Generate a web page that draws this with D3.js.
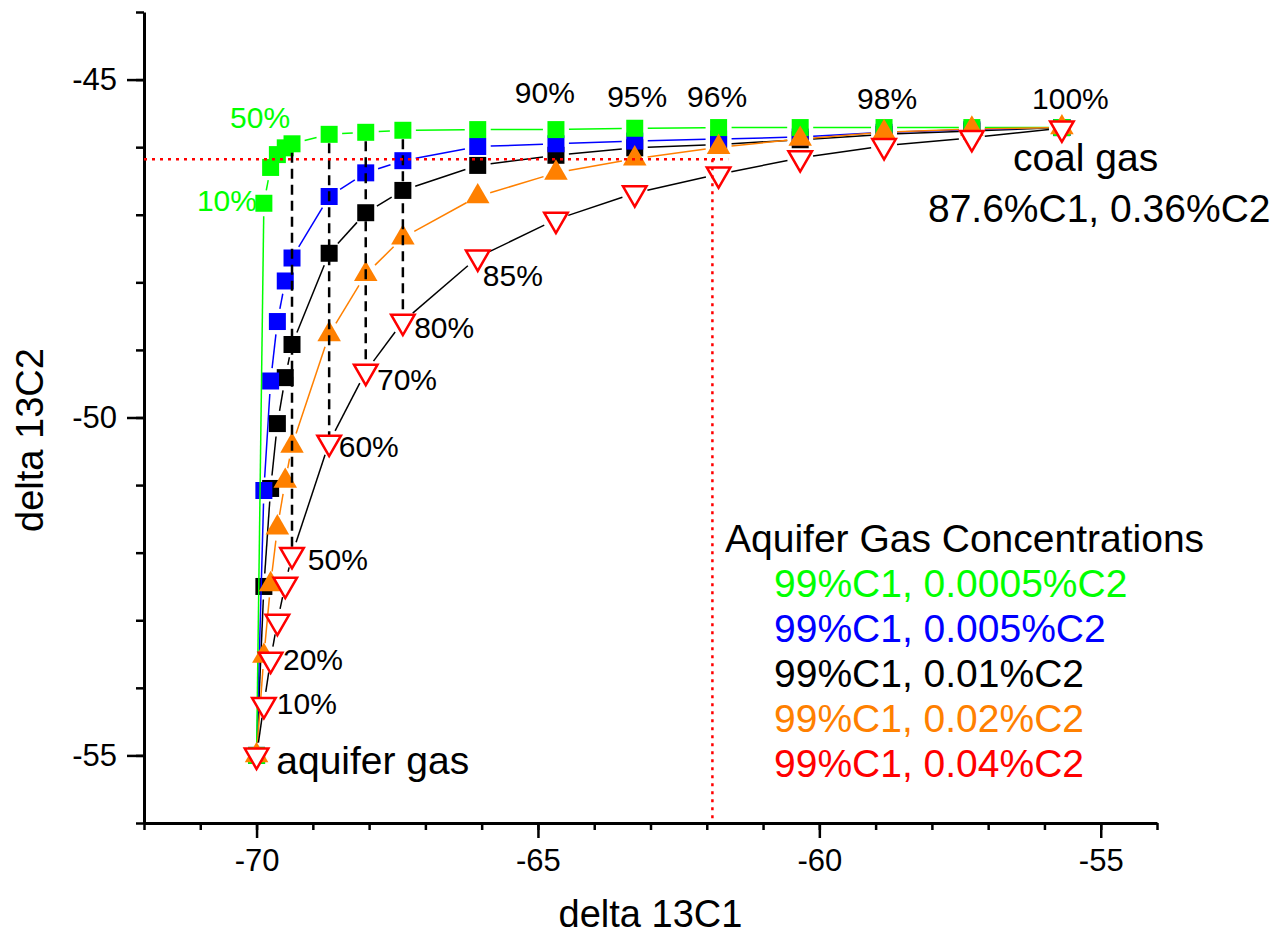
<!DOCTYPE html>
<html>
<head>
<meta charset="utf-8">
<script src="https://cdn.jsdelivr.net/npm/d3@7"></script>
<style>
  html, body { margin: 0; padding: 0; background: #fff; }
  svg text { font-family: "Liberation Sans", Arial, sans-serif; }
</style>
</head>
<body>
<div id="chart"></div>
<script>
// mixing fraction of coal gas (%) and resulting delta 13C1 (shared by all series)
const mixPct = [0, 10, 20, 30, 40, 50, 60, 70, 80, 85, 90, 95, 96, 97, 98, 99, 100];
const delta13C1 = [-70.0, -69.87, -69.75, -69.63, -69.49, -69.37, -68.71, -68.06, -67.40,
  -66.07, -64.68, -63.28, -61.79, -60.34, -58.85, -57.29, -55.69];

// delta 13C2 for each aquifer gas concentration
const c2_0005 = [-55.0, -46.83, -46.30, -46.11, -46.01, -45.95, -45.81, -45.78, -45.75,
  -45.74, -45.74, -45.72, -45.71, -45.71, -45.71, -45.71, -45.71];
const c2_005 = [-55.0, -51.08, -49.46, -48.58, -47.98, -47.64, -46.73, -46.38, -46.20,
  -45.99, -45.95, -45.91, -45.88, -45.85, -45.78, -45.74, -45.71];
const c2_01 = [-55.0, -52.50, -51.05, -50.09, -49.41, -48.92, -47.57, -46.97, -46.64,
  -46.27, -46.12, -46.01, -45.96, -45.89, -45.81, -45.76, -45.71];
const c2_02 = [-55.0, -53.53, -52.47, -51.63, -50.94, -50.42, -48.77, -47.88, -47.34,
  -46.73, -46.38, -46.17, -46.00, -45.88, -45.78, -45.73, -45.71];
const c2_04 = [-55.0, -54.25, -53.58, -53.02, -52.47, -52.03, -50.37, -49.32, -48.58,
  -47.63, -47.07, -46.68, -46.40, -46.16, -45.98, -45.86, -45.72];

const legendTitle = "Aquifer Gas Concentrations";
const legendLabels = ["99%C1, 0.0005%C2", "99%C1, 0.005%C2", "99%C1, 0.01%C2", "99%C1, 0.02%C2", "99%C1, 0.04%C2"];

// tick values
const xMajor = [-70, -65, -60, -55];
const yMajor = [-55, -50, -45];

// dashed guides drawn at these mixing steps
const guidePct = [50, 60, 70, 80];

// red dotted reference: coal-gas C2 level and C1 crossover
const refC2 = -46.18;
const refC1 = -61.9;
const refC1End = -61.62;

// annotations [text, delta13C1, delta13C2]
const pctNotes = [
  ["90%", -65.41, -45.34], ["95%", -63.77, -45.40], ["96%", -62.35, -45.41],
  ["98%", -59.33, -45.44], ["100%", -56.22, -45.44], ["85%", -65.98, -48.06],
  ["80%", -67.20, -48.83], ["70%", -67.86, -49.59], ["60%", -68.54, -50.58],
  ["50%", -69.09, -52.25], ["20%", -69.53, -53.73], ["10%", -69.64, -54.39]
];
const greenNotes = [["50%", -70.47, -45.71], ["10%", -71.06, -46.95]];
const bigNotes = [
  ["aquifer gas", -69.65, -55.28], ["coal gas", -56.56, -46.36],
  ["87.6%C1, 0.36%C2", -58.07, -47.10]
];

const W = 1279, H = 938;
const margin = { top: 12, right: 122, bottom: 115, left: 144 };
const width = W - margin.left - margin.right;
const height = H - margin.top - margin.bottom;

const svg = d3.select("#chart").append("svg")
  .attr("width", W)
  .attr("height", H);

const g = svg.append("g")
  .attr("transform", `translate(${margin.left},${margin.top})`);

const x = d3.scaleLinear().domain([-72, -54]).range([0, width]);
const y = d3.scaleLinear().domain([-56, -44]).range([height, 0]);

// plain hyphen for negative tick labels
const fmt = d => String(d);

// axes: minor ticks first, then majors with labels
g.append("g")
  .attr("transform", `translate(0,${height})`)
  .call(d3.axisBottom(x).tickValues(d3.range(-72, -53, 1)).tickSize(7).tickSizeOuter(0).tickFormat(""))
  .call(a => a.select(".domain").remove())
  .selectAll("line").attr("stroke-width", 2.5);
g.append("g")
  .attr("transform", `translate(0,${height})`)
  .call(d3.axisBottom(x).tickValues(xMajor).tickSize(15).tickSizeOuter(0).tickPadding(11).tickFormat(fmt))
  .call(a => a.select(".domain").attr("stroke-width", 3))
  .call(a => a.selectAll("line").attr("stroke-width", 2.5))
  .call(a => a.selectAll("text").style("font-size", "31px").attr("fill", "#000"));

g.append("g")
  .call(d3.axisLeft(y).tickValues(d3.range(-56, -43, 1)).tickSize(8).tickSizeOuter(0).tickFormat(""))
  .call(a => a.select(".domain").remove())
  .selectAll("line").attr("stroke-width", 2.5);
g.append("g")
  .call(d3.axisLeft(y).tickValues(yMajor).tickSize(17).tickSizeOuter(0).tickPadding(10).tickFormat(fmt))
  .call(a => a.select(".domain").attr("stroke-width", 3))
  .call(a => a.selectAll("line").attr("stroke-width", 2.5))
  .call(a => a.selectAll("text").style("font-size", "31px").attr("fill", "#000"));

// axis titles
svg.append("text")
  .attr("x", margin.left + width / 2)
  .attr("y", 927)
  .attr("text-anchor", "middle")
  .style("font-size", "38px")
  .text("delta 13C1");
svg.append("text")
  .attr("transform", "translate(43,440) rotate(-90)")
  .attr("text-anchor", "middle")
  .style("font-size", "38px")
  .text("delta 13C2");

const series = [
  { name: legendLabels[2], values: c2_01, color: "#000000", line: "#000000", shape: "square" },
  { name: legendLabels[1], values: c2_005, color: "#0000ff", line: "#0000ff", shape: "square" },
  { name: legendLabels[0], values: c2_0005, color: "#00ff00", line: "#00ff00", shape: "square" },
  { name: legendLabels[3], values: c2_02, color: "#ff8000", line: "#ff8000", shape: "up" },
  { name: legendLabels[4], values: c2_04, color: "#ff0000", line: "#000000", shape: "down" }
];

const squareSym = d3.symbol().type(d3.symbolSquare).size(289);
const triSym = d3.symbol().type(d3.symbolTriangle).size(240);
const gap = 13;

function drawSeries(s) {
  const pts = delta13C1.map((c1, i) => [x(c1), y(s.values[i])]);
  // line segments with a small gap around each symbol
  const segs = [];
  for (let i = 0; i < pts.length - 1; i++) {
    const [x1, y1] = pts[i], [x2, y2] = pts[i + 1];
    const len = Math.hypot(x2 - x1, y2 - y1);
    if (len <= gap * 2 + 2) continue;
    const ux = (x2 - x1) / len, uy = (y2 - y1) / len;
    segs.push([x1 + ux * gap, y1 + uy * gap, x2 - ux * gap, y2 - uy * gap]);
  }
  g.append("g").selectAll("line")
    .data(segs)
    .enter().append("line")
    .attr("x1", d => d[0]).attr("y1", d => d[1])
    .attr("x2", d => d[2]).attr("y2", d => d[3])
    .attr("stroke", s.line)
    .attr("stroke-width", 1.5);

  const marks = g.append("g").selectAll("path")
    .data(pts)
    .enter().append("path")
    .attr("transform", d => `translate(${d[0]},${d[1]})` + (s.shape === "down" ? " rotate(180)" : ""))
    .attr("d", s.shape === "square" ? squareSym() : triSym());
  if (s.shape === "down") {
    marks.attr("fill", "#fff").attr("stroke", s.color).attr("stroke-width", 2.5);
  } else {
    marks.attr("fill", s.color);
  }
}

series.slice(0, 4).forEach(drawSeries);

// dashed vertical guides from the 0.0005% curve down to the 0.04% curve
g.append("g").selectAll("line")
  .data(guidePct.map(p => mixPct.indexOf(p)))
  .enter().append("line")
  .attr("x1", i => x(delta13C1[i]))
  .attr("x2", i => x(delta13C1[i]))
  .attr("y1", i => y(c2_0005[i]) + 9)
  .attr("y2", i => y(c2_04[i]))
  .attr("stroke", "#000")
  .attr("stroke-width", 2.5)
  .attr("stroke-dasharray", "10,6");

drawSeries(series[4]);

// red dotted reference lines
g.append("line")
  .attr("x1", x(-72)).attr("x2", x(refC1End))
  .attr("y1", y(refC2)).attr("y2", y(refC2))
  .attr("stroke", "#ff0000").attr("stroke-width", 2.5).attr("stroke-dasharray", "3,5");
g.append("line")
  .attr("x1", x(refC1)).attr("x2", x(refC1))
  .attr("y1", y(refC2)).attr("y2", y(-56))
  .attr("stroke", "#ff0000").attr("stroke-width", 2.5).attr("stroke-dasharray", "3,5");

// annotations
g.selectAll(".pct")
  .data(pctNotes)
  .enter().append("text")
  .attr("class", "pct")
  .attr("x", d => x(d[1])).attr("y", d => y(d[2]))
  .style("font-size", "30px")
  .text(d => d[0]);
g.selectAll(".gpct")
  .data(greenNotes)
  .enter().append("text")
  .attr("class", "gpct")
  .attr("x", d => x(d[1])).attr("y", d => y(d[2]))
  .attr("fill", "#00ff00")
  .style("font-size", "30px")
  .text(d => d[0]);
g.selectAll(".big")
  .data(bigNotes)
  .enter().append("text")
  .attr("class", "big")
  .attr("x", d => x(d[1])).attr("y", d => y(d[2]))
  .style("font-size", "39px")
  .text(d => d[0]);

// legend (text only)
const legend = svg.append("g").attr("transform", "translate(725,552)");
legend.append("text")
  .style("font-size", "39px")
  .text(legendTitle);
const legendColors = ["#00ff00", "#0000ff", "#000000", "#ff8000", "#ff0000"];
legend.selectAll(".item")
  .data(legendLabels)
  .enter().append("text")
  .attr("class", "item")
  .attr("x", 49)
  .attr("y", (d, i) => 45 * (i + 1))
  .attr("fill", (d, i) => legendColors[i])
  .style("font-size", "39px")
  .text(d => d);
</script>
</body>
</html>
